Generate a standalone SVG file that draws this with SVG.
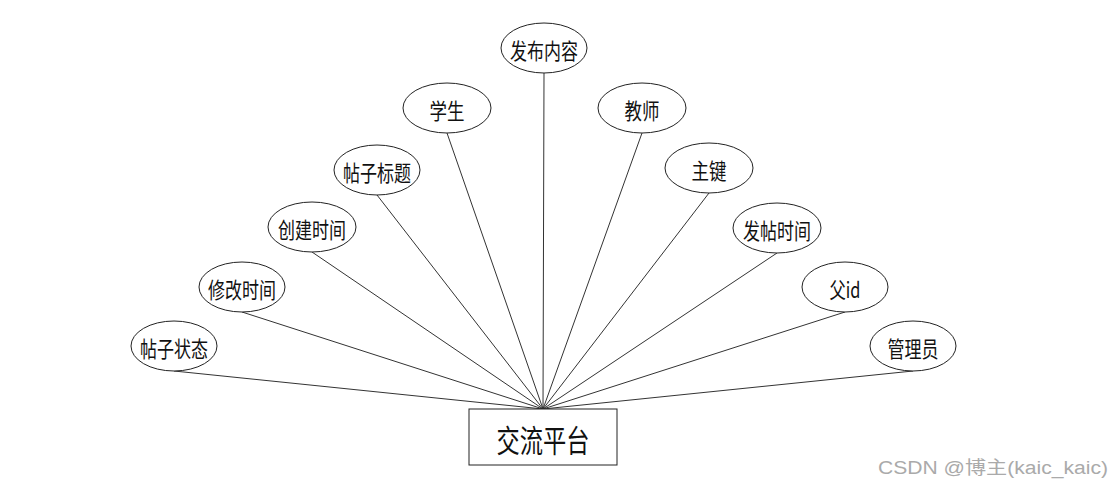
<svg xmlns="http://www.w3.org/2000/svg" width="1112" height="486" viewBox="0 0 1112 486">
<style>
.e{fill:#fff;stroke:#222;stroke-width:1}
.t{font-family:"Noto Sans CJK SC","Liberation Sans",sans-serif;font-size:22px;fill:#111;text-anchor:middle;dominant-baseline:central}
.c line{stroke:#333;stroke-width:1}
</style>
<rect width="1112" height="486" fill="#fff"/>
<g class="c" id="connectors">
<line x1="544" y1="73" x2="543" y2="409"/>
<line x1="447" y1="133" x2="543" y2="409"/>
<line x1="642" y1="133" x2="543" y2="409"/>
<line x1="377" y1="195" x2="543" y2="409"/>
<line x1="709" y1="193" x2="543" y2="409"/>
<line x1="312" y1="252" x2="543" y2="409"/>
<line x1="777" y1="253" x2="543" y2="409"/>
<line x1="242" y1="312" x2="543" y2="409"/>
<line x1="845" y1="312" x2="543" y2="409"/>
<line x1="174" y1="371" x2="543" y2="409"/>
<line x1="913" y1="371" x2="543" y2="409"/>
</g>
<g id="n1"><ellipse class="e" cx="544" cy="48" rx="43" ry="25"/><text class="t" x="544" y="49" textLength="68" lengthAdjust="spacingAndGlyphs">发布内容</text></g>
<g id="n2"><ellipse class="e" cx="447" cy="108" rx="44" ry="25"/><text class="t" x="447" y="109" textLength="35" lengthAdjust="spacingAndGlyphs">学生</text></g>
<g id="n3"><ellipse class="e" cx="642" cy="108" rx="44" ry="25"/><text class="t" x="642" y="109" textLength="35" lengthAdjust="spacingAndGlyphs">教师</text></g>
<g id="n4"><ellipse class="e" cx="377" cy="170" rx="43" ry="25"/><text class="t" x="377" y="171" textLength="68" lengthAdjust="spacingAndGlyphs">帖子标题</text></g>
<g id="n5"><ellipse class="e" cx="709" cy="168" rx="44" ry="25"/><text class="t" x="709" y="169" textLength="35" lengthAdjust="spacingAndGlyphs">主键</text></g>
<g id="n6"><ellipse class="e" cx="312" cy="227" rx="44" ry="25"/><text class="t" x="312" y="228" textLength="68" lengthAdjust="spacingAndGlyphs">创建时间</text></g>
<g id="n7"><ellipse class="e" cx="777" cy="228" rx="44" ry="25"/><text class="t" x="777" y="229" textLength="68" lengthAdjust="spacingAndGlyphs">发帖时间</text></g>
<g id="n8"><ellipse class="e" cx="242" cy="287" rx="43" ry="25"/><text class="t" x="242" y="288" textLength="68" lengthAdjust="spacingAndGlyphs">修改时间</text></g>
<g id="n9"><ellipse class="e" cx="845" cy="287" rx="43" ry="25"/><text class="t" x="845" y="288" textLength="31" lengthAdjust="spacingAndGlyphs">父id</text></g>
<g id="n10"><ellipse class="e" cx="174" cy="346" rx="43" ry="25"/><text class="t" x="174" y="347" textLength="68" lengthAdjust="spacingAndGlyphs">帖子状态</text></g>
<g id="n11"><ellipse class="e" cx="913" cy="346" rx="43" ry="25"/><text class="t" x="913" y="347" textLength="51" lengthAdjust="spacingAndGlyphs">管理员</text></g>
<g id="center"><rect x="469" y="409" width="148" height="56" fill="#fff" stroke="#222" stroke-width="1"/><text class="t" x="543" y="438" style="font-size:31px" textLength="93" lengthAdjust="spacingAndGlyphs">交流平台</text></g>
<text x="878" y="474" font-family="'Liberation Sans','Noto Sans CJK SC',sans-serif" font-size="18" fill="#aaa" textLength="230" lengthAdjust="spacingAndGlyphs">CSDN @博主(kaic_kaic)</text>
</svg>
